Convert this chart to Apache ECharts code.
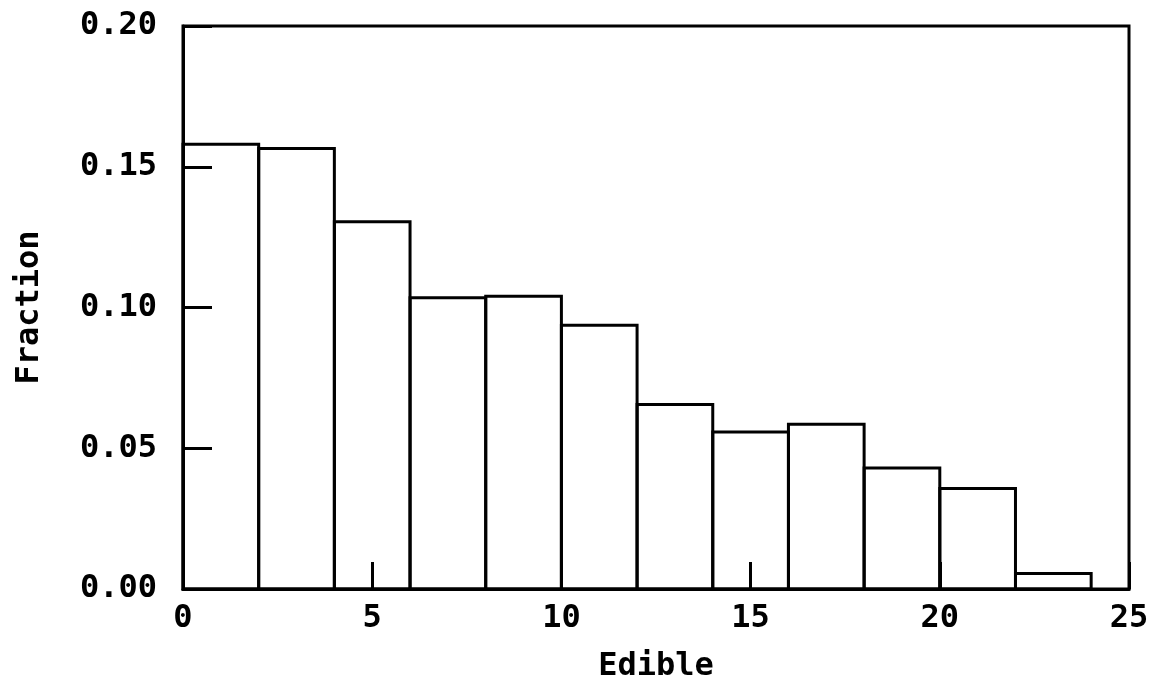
<!DOCTYPE html>
<html>
<head>
<meta charset="utf-8">
<script src="https://cdn.jsdelivr.net/npm/echarts@6/dist/echarts.min.js"></script>
<style>
  html, body { margin: 0; padding: 0; background: #fff; }
  #chart { width: 1156px; height: 687px; }
</style>
</head>
<body>
<div id="chart"></div>
<script>
// histogram bins (width 2) and fraction per bin
const binStarts = [0, 2, 4, 6, 8, 10, 12, 14, 16, 18, 20, 22]
const binWidth = 2
const fractions = [0.158, 0.1565, 0.1305, 0.1035, 0.104, 0.0937, 0.0655, 0.0558, 0.0585, 0.043, 0.0357, 0.0055]
const xTicks = [0, 5, 10, 15, 20, 25]
const yTicks = [0, 0.05, 0.10, 0.15, 0.20]

const font = 'DejaVu Sans Mono'
const chart = echarts.init(document.getElementById('chart'))

const data = binStarts.map((s, i) => [s, s + binWidth, fractions[i]])

chart.setOption({
  animation: false,
  backgroundColor: '#fff',
  grid: {
    left: 183, right: 27, top: 26, bottom: 98,
    outerBoundsMode: 'none',
    show: true, borderColor: '#000', borderWidth: 3
  },
  xAxis: {
    type: 'value', min: xTicks[0], max: xTicks[xTicks.length - 1], interval: 5,
    z: 10,
    name: 'Edible', nameLocation: 'middle', nameGap: 62,
    nameTextStyle: { fontFamily: font, fontWeight: 'bold', fontSize: 32, color: '#000' },
    axisLine: { lineStyle: { color: '#000', width: 3 } },
    axisTick: { inside: true, length: 27, lineStyle: { color: '#000', width: 3 } },
    axisLabel: { margin: 14, fontFamily: font, fontWeight: 'bold', fontSize: 32, color: '#000' },
    splitLine: { show: false }
  },
  yAxis: {
    type: 'value', min: yTicks[0], max: yTicks[yTicks.length - 1], interval: 0.05,
    z: 10,
    name: 'Fraction', nameLocation: 'middle', nameGap: 137, nameRotate: 90,
    nameTextStyle: { fontFamily: font, fontWeight: 'bold', fontSize: 32, color: '#000' },
    axisLine: { show: true, lineStyle: { color: '#000', width: 3 } },
    axisTick: { show: true, inside: true, length: 29, lineStyle: { color: '#000', width: 3 } },
    axisLabel: {
      margin: 26, fontFamily: font, fontWeight: 'bold', fontSize: 32, color: '#000',
      formatter: v => v.toFixed(2)
    },
    splitLine: { show: false }
  },
  series: [{
    type: 'custom',
    z: 1,
    data: data,
    encode: { x: [0, 1], y: 2 },
    renderItem: (params, api) => {
      const p0 = api.coord([api.value(0), 0])
      const p1 = api.coord([api.value(1), api.value(2)])
      return {
        type: 'rect',
        shape: { x: p0[0], y: p1[1], width: p1[0] - p0[0], height: p0[1] - p1[1] },
        style: { fill: 'transparent', stroke: '#000', lineWidth: 3 }
      }
    }
  }]
})
</script>
</body>
</html>
